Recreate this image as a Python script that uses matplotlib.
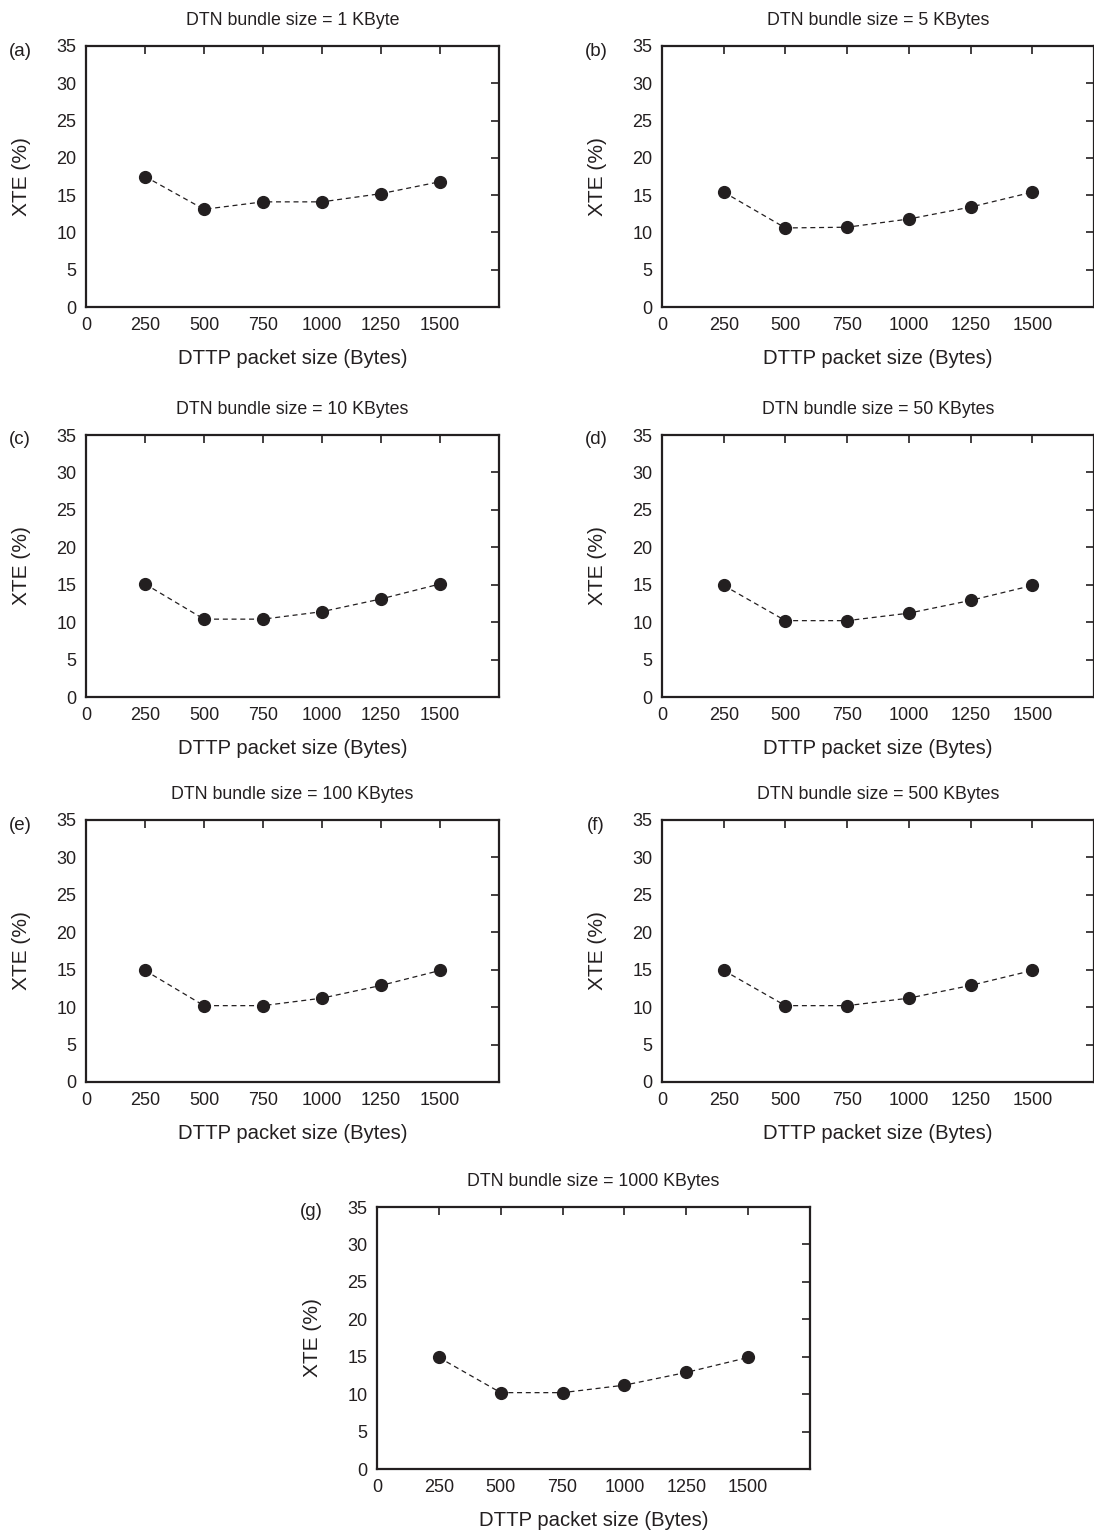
import matplotlib.pyplot as plt

plt.rcParams['font.family'] = ['Liberation Sans', 'DejaVu Sans']

# DTTP packet sizes (Bytes)
packet_sizes = [250, 500, 750, 1000, 1250, 1500]

# XTE (%) for each DTN bundle size
xte_1k = [17.5, 13.1, 14.1, 14.1, 15.2, 16.8]
xte_5k = [15.4, 10.6, 10.7, 11.8, 13.4, 15.4]
xte_10k = [15.1, 10.4, 10.4, 11.4, 13.1, 15.1]
xte_50k = [14.9, 10.2, 10.2, 11.2, 12.9, 14.9]
xte_100k = [14.9, 10.2, 10.2, 11.2, 12.9, 14.9]
xte_500k = [14.9, 10.2, 10.2, 11.2, 12.9, 14.9]
xte_1000k = [14.9, 10.2, 10.2, 11.2, 12.9, 14.9]

titles = ['DTN bundle size = 1 KByte', 'DTN bundle size = 5 KBytes',
          'DTN bundle size = 10 KBytes', 'DTN bundle size = 50 KBytes',
          'DTN bundle size = 100 KBytes', 'DTN bundle size = 500 KBytes',
          'DTN bundle size = 1000 KBytes']
panel_tags = ['(a)', '(b)', '(c)', '(d)', '(e)', '(f)', '(g)']
series = [xte_1k, xte_5k, xte_10k, xte_50k, xte_100k, xte_500k, xte_1000k]

W, H = 1094, 1532
ink = '#231f20'

# axes boxes in pixels: left, top, right, bottom
boxes = [(86, 46, 499, 307), (662, 46, 1094, 307),
         (86, 435, 499, 697), (662, 435, 1094, 697),
         (86, 820, 499, 1082), (662, 820, 1094, 1082),
         (377, 1207, 810, 1469)]

fig = plt.figure(figsize=(W / 100, H / 100), dpi=100)

for i, (l, t, r, b) in enumerate(boxes):
    ax = fig.add_axes([l / W, 1 - b / H, (r - l) / W, (b - t) / H])
    ax.plot(packet_sizes, series[i], color=ink, lw=0.9, dashes=(4, 3),
            marker='o', markersize=8.5, markerfacecolor=ink,
            markeredgecolor=ink)
    ax.set_xlim(0, 1750)
    ax.set_ylim(0, 35)
    ax.set_xticks([0, 250, 500, 750, 1000, 1250, 1500])
    ax.set_yticks(range(0, 36, 5))
    ax.tick_params(direction='in', bottom=False, left=False, top=True,
                   right=True, length=6, width=1.2, colors=ink,
                   labelsize=13, labelcolor=ink)
    ax.tick_params(axis='x', pad=7)
    ax.tick_params(axis='y', pad=7)
    for sp in ax.spines.values():
        sp.set_linewidth(1.6)
        sp.set_color(ink)
    ax.set_xlabel('DTTP packet size (Bytes)', fontsize=14.6, color=ink,
                  labelpad=11)
    ax.set_ylabel('XTE (%)', fontsize=15, color=ink, labelpad=18)
    ax.set_title(titles[i], fontsize=12.8, color=ink, pad=15)
    # panel letter to the upper left of each box
    fig.text((l - 66) / W, 1 - (t + 5) / H, panel_tags[i], fontsize=13.5,
             color=ink, ha='center', va='center')

fig.savefig('out.png', dpi=100)
